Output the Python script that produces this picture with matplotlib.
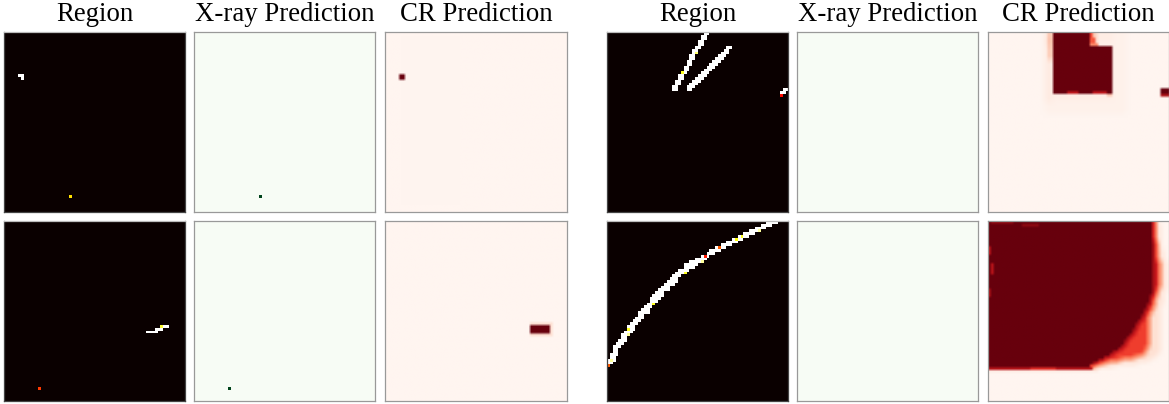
import numpy as np
import matplotlib
matplotlib.use("Agg")
import matplotlib.pyplot as plt

plt.rcParams["font.family"] = ["Liberation Serif", "DejaVu Serif"]

N = 64
titles = ["Region", "X-ray Prediction", "CR Prediction"]

# every block below is (row_from, row_to, col_from, col_to, value)
a_region = [(15, 15, 5, 6, 1.0), (16, 16, 6, 6, 1.0), (58, 58, 23, 23, 0.7)]
a_xray = [(58, 58, 23, 23, 1.0)]
a_cr = [(2, 60, 6, 25, 0.004), (15, 16, 5, 6, 1.0)]

b_region = [
    (39, 39, 50, 53, 1.0), (38, 38, 53, 55, 1.0), (37, 37, 55, 57, 1.0),
    (37, 37, 55, 55, 0.8), (59, 59, 12, 12, 0.45),
]
b_xray = [(59, 59, 12, 12, 1.0)]
b_cr = [(36, 40, 51, 58, 0.12), (37, 39, 51, 57, 1.0)]

# white strokes of the right hand regions: row, first col, last col
c_stroke_a = [
    (0, 34, 35), (1, 33, 34), (2, 33, 34), (3, 32, 33), (4, 32, 33), (5, 31, 32),
    (6, 30, 31), (7, 30, 31), (8, 29, 30), (9, 29, 30), (10, 28, 29), (11, 28, 29),
    (12, 27, 28), (13, 27, 28), (14, 26, 27), (15, 25, 26), (16, 25, 26), (17, 24, 25),
    (18, 24, 25), (19, 23, 24), (20, 23, 24),
]
c_stroke_b = [
    (5, 42, 43), (6, 41, 42), (7, 40, 42), (8, 39, 41), (9, 38, 40), (10, 37, 39),
    (11, 36, 38), (12, 35, 37), (13, 34, 36), (14, 33, 35), (15, 32, 34), (16, 31, 33),
    (17, 30, 32), (18, 29, 31), (19, 28, 30), (20, 28, 29),
]
c_stroke_c = [(20, 62, 63), (21, 61, 62)]
c_spots = [(14, 26, 0.78), (7, 31, 0.85), (22, 61, 0.38)]

c_haze = [
    (0, 28, 20, 48, 0.025), (0, 24, 20, 22, 0.06), (0, 3, 38, 43, 0.05),
    (0, 9, 22, 22, 0.45), (1, 4, 21, 21, 0.15), (0, 4, 36, 37, 0.3),
    (22, 23, 24, 43, 0.05),
]
c_solid = [
    (0, 4, 23, 35, 1.0), (5, 21, 23, 43, 1.0),
    (0, 1, 36, 36, 0.6), (2, 3, 36, 37, 0.55), (4, 4, 36, 38, 0.4),
    (21, 21, 28, 31, 0.8), (21, 21, 37, 41, 0.8), (22, 22, 42, 43, 0.2),
    (20, 22, 61, 63, 1.0), (22, 22, 61, 63, 0.85),
]

d_arc = [
    (0, 56, 58), (1, 54, 56), (2, 52, 54), (3, 50, 52), (4, 48, 50), (5, 46, 48),
    (6, 44, 46), (7, 42, 44), (8, 40, 42), (9, 38, 40), (10, 36, 38), (11, 35, 36),
    (12, 33, 34), (13, 31, 33), (14, 29, 31), (15, 27, 30), (16, 27, 29), (17, 25, 27),
    (18, 24, 26), (19, 23, 24), (20, 22, 23), (21, 21, 23), (22, 20, 22), (23, 19, 20),
    (24, 18, 20), (25, 17, 18), (26, 16, 18), (27, 15, 17), (28, 15, 16), (29, 14, 15),
    (30, 13, 14), (31, 12, 13), (32, 11, 13), (33, 11, 11), (34, 10, 11), (35, 9, 10),
    (36, 8, 9), (37, 7, 8), (38, 7, 8), (39, 6, 7), (40, 5, 6), (41, 5, 5), (42, 4, 5),
    (43, 3, 4), (44, 2, 3), (45, 2, 2), (46, 2, 2), (47, 1, 2), (48, 1, 1), (49, 0, 1),
    (50, 0, 0),
]
d_spots = [
    (38, 7, 0.78), (40, 7, 0.9), (29, 16, 0.78), (18, 27, 0.78), (14, 33, 0.9),
    (12, 34, 0.4), (9, 39, 0.5), (6, 45, 0.75), (5, 47, 0.78), (3, 53, 0.9),
    (51, 0, 0.5), (49, 1, 0.9),
]

# big CR block, one entry per row: last col of solid, of red fringe, of pale fringe
d_solid_end = [
    58, 58, 58, 58, 58, 58, 58, 58, 58, 58, 58, 58, 58, 58, 58, 58, 58, 58, 58, 58,
    58, 58, 58, 58, 58, 58, 57, 57, 57, 56, 56, 55, 55, 54, 54, 53, 52, 52, 51, 51,
    50, 49, 48, 48, 47, 46, 44, 43, 41, 39, 37, 36,
]
d_red_end = [
    58, 58, 58, 58, 58, 58, 58, 59, 59, 59, 59, 59, 59, 59, 60, 60, 60, 60, 60, 60,
    60, 60, 60, 60, 59, 59, 59, 58, 58, 58, 58, 57, 57, 56, 56, 56, 56, 56, 56, 56,
    56, 56, 56, 56, 56, 55, 55, 54, 51, 46, 41, 38,
]
d_pale_end = [
    59, 60, 60, 60, 60, 60, 60, 60, 60, 60, 61, 61, 61, 61, 62, 62, 62, 62, 62, 62,
    62, 62, 62, 62, 62, 61, 61, 61, 61, 61, 60, 60, 60, 60, 60, 60, 60, 60, 60, 60,
    60, 60, 60, 60, 60, 60, 60, 59, 58, 56, 52, 44,
]
d_cr = [
    (0, 0, 1, 8, 0.92), (1, 1, 12, 17, 0.92), (9, 11, 0, 0, 0.78), (15, 18, 1, 1, 0.8),
    (24, 26, 0, 0, 0.85), (52, 52, 0, 36, 0.82), (52, 52, 15, 23, 0.68),
    (53, 53, 0, 38, 0.04),
]


def paint(blocks, img=None):
    img = np.zeros((N, N)) if img is None else img
    for r0, r1, c0, c1, v in blocks:
        img[r0:r1 + 1, c0:c1 + 1] = v
    return img


def stroke(runs, extra=0):
    img = np.zeros((N, N))
    for r, c0, c1 in runs:
        img[r, c0:c1 + 1 + extra] = 1.0
    return img


def spots(img, points):
    for r, c, v in points:
        img[r, c] = v
    return img


def soften(img):
    pad = np.pad(img, 1, mode="edge")
    out = np.zeros_like(img)
    for dr in range(3):
        for dc in range(3):
            out += pad[dr:dr + N, dc:dc + N]
    return out / 9


c_img = spots(stroke(c_stroke_a + c_stroke_b + c_stroke_c), c_spots)
d_img = spots(stroke(d_arc, extra=1), d_spots)

c_cr_img = paint(c_solid, soften(paint(c_haze)))

d_fringe = np.zeros((N, N))
d_core = np.zeros((N, N), dtype=bool)
for r, (solid, red, pale) in enumerate(zip(d_solid_end, d_red_end, d_pale_end)):
    d_fringe[r, :pale + 1] = 0.12
    d_fringe[r, :red + 1] = 0.62
    d_fringe[r, :solid + 1] = 1.0
    d_core[r, :solid] = True
d_cr_img = soften(d_fringe)
d_cr_img[d_core] = 1.0
d_cr_img = paint(d_cr, d_cr_img)

grid = [
    [paint(a_region), paint(a_xray), paint(a_cr), c_img, np.zeros((N, N)), c_cr_img],
    [paint(b_region), paint(b_xray), paint(b_cr), d_img, np.zeros((N, N)), d_cr_img],
]
cmaps = ["hot", "Greens", "Reds"] * 2

W, H = 1169, 404
lefts = [4, 194, 385.5, 607, 797, 988]
tops = [32, 221]
size = 181

fig = plt.figure(figsize=(W / 100, H / 100), dpi=100)
for i, top in enumerate(tops):
    for j, left in enumerate(lefts):
        ax = fig.add_axes([left / W, 1 - (top + size - 1) / H, size / W, (size - 1) / H])
        ax.imshow(grid[i][j], cmap=cmaps[j], vmin=0, vmax=1, aspect="auto",
                  interpolation="bilinear" if j % 3 == 2 else "nearest")
        ax.set_xticks([])
        ax.set_yticks([])
        for s in ax.spines.values():
            s.set_color("#444444" if j % 3 == 0 else "#999999")
            s.set_linewidth(0.9)
        if j % 3 == 0:
            ax.spines["top"].set_color("#bbbbbb")
        if i == 0:
            ax.set_title(titles[j % 3], fontsize=19.3, pad=8)

fig.savefig("out.png", dpi=100)
